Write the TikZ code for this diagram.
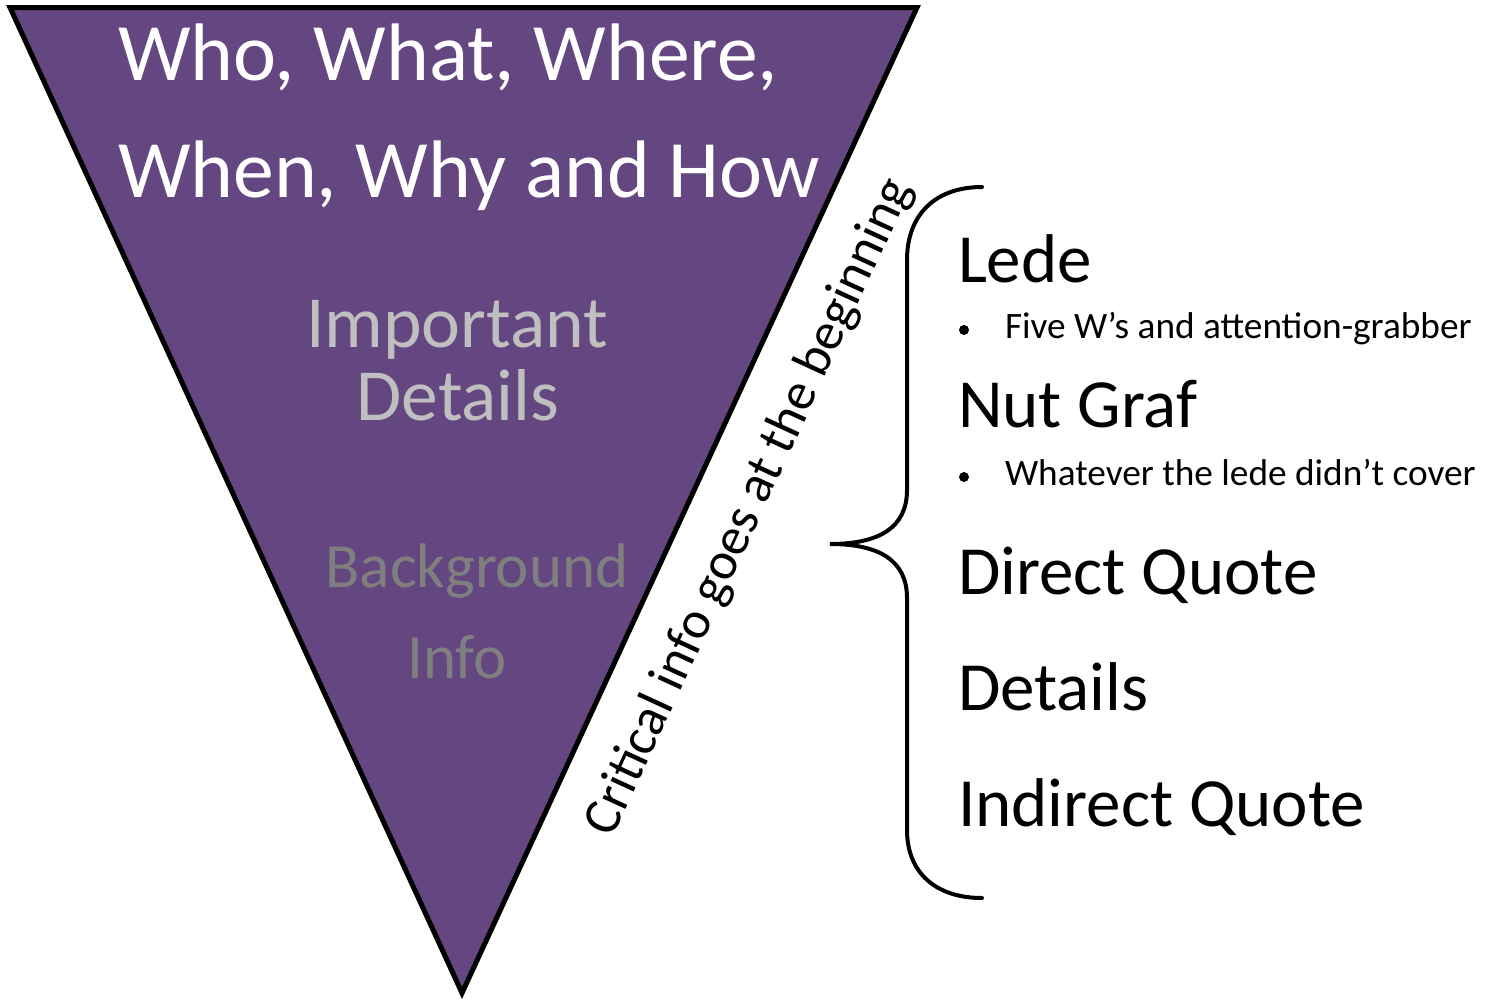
\documentclass[tikz,border=0pt]{standalone}
\usepackage{fontspec}
\setmainfont{Carlito}
\definecolor{tripurple}{RGB}{100,70,128}
\definecolor{lightgrey}{RGB}{191,191,191}
\definecolor{midgrey}{RGB}{127,127,127}
\tikzset{
  txt/.style={inner sep=0pt, outer sep=0pt},
  bigw/.style={txt, anchor=base west, text=white, font=\fontsize{81.6}{90}\selectfont},
  ctrtxt/.style={txt, anchor=base, font=\fontsize{73.5}{80}\selectfont},
  item/.style={txt, anchor=base west, font=\fontsize{69}{76}\selectfont},
  sub/.style={txt, anchor=base west, font=\fontsize{37.3}{42}\selectfont},
  bulletdot/.style={circle, fill=black, inner sep=0pt, minimum size=10pt},
}
\begin{document}
\begin{tikzpicture}[x=1pt, y=-1pt]
\useasboundingbox (0,0) rectangle (1492,1001);
% triangle
\coordinate (tl) at (10,7.5);
\coordinate (tr) at (917,7.5);
\coordinate (bt) at (462,993);
\draw[line width=5pt, line join=miter, fill=tripurple] (tl) -- (tr) -- (bt) -- cycle;
% texts in triangle
\node[bigw] (w1) at (118,80) {Who, What, Where,};
\node[bigw] (w2) at (118,197) {When, Why and How};
\node[ctrtxt, text=lightgrey] (imp1) at (457,347) {Important};
\node[ctrtxt, text=lightgrey] (imp2) at (458,420) {Details};
\node[ctrtxt, text=midgrey, font=\fontsize{63}{70}\selectfont] (bg1) at (477,587) {Background};
\node[ctrtxt, text=midgrey, font=\fontsize{63}{70}\selectfont] (bg2) at (457,678) {Info};
% rotated text
\node[txt, rotate=65.3, font=\fontsize{53}{58}\selectfont] (crit) at (750,507) {Critical info goes at the beginning};
% brace
\coordinate (btop) at (982,187);
\coordinate (btip) at (830,544);
\coordinate (bbot) at (982,898);
\draw[line width=4pt, line cap=round] (btop) .. controls (935,187) and (907,215) .. (907,260)
  -- (907,490) .. controls (907,527) and (880,544) .. (btip)
  .. controls (880,544) and (907,561) .. (907,598)
  -- (907,830) .. controls (907,872) and (935,898) .. (bbot);
% right list
\node[item] (lede) at (958,282) {Lede};
\node[bulletdot] (b1) at (964,330) {};
\node[sub] (s1) at (1005,338) {Five W’s and attention-grabber};
\node[item] (nut) at (958,427) {Nut Graf};
\node[bulletdot] (b2) at (964,477) {};
\node[sub] (s2) at (1005,485) {Whatever the lede didn’t cover};
\node[item] (dq) at (958,594) {Direct Quote};
\node[item] (det) at (958,710) {Details};
\node[item] (iq) at (958,826) {Indirect Quote};
\end{tikzpicture}
\end{document}
